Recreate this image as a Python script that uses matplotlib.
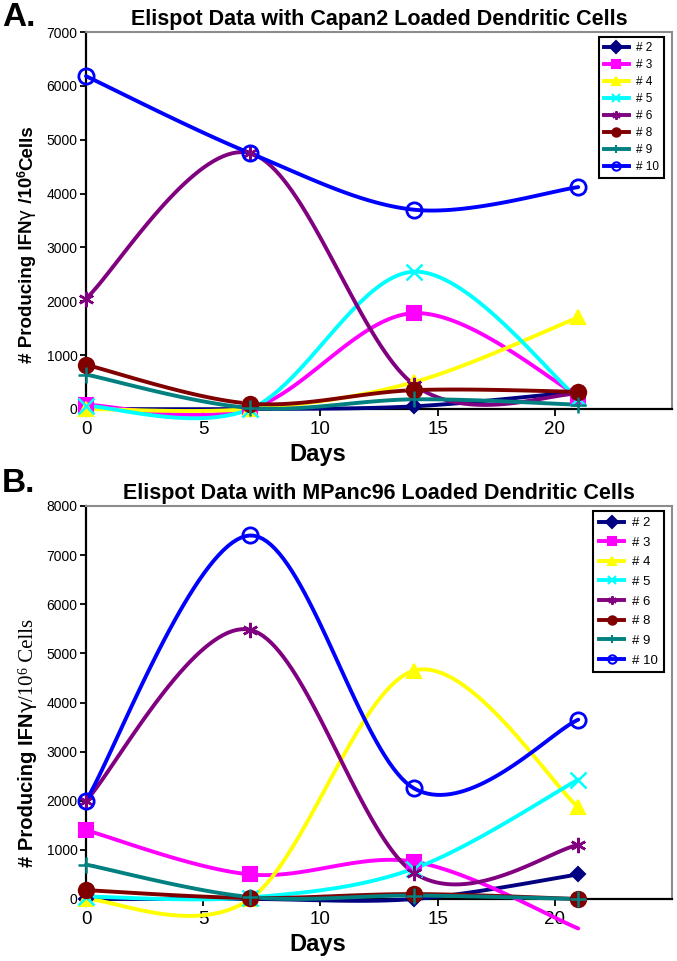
import numpy as np
import matplotlib
matplotlib.use("Agg")
import matplotlib.pyplot as plt
from matplotlib.lines import Line2D

plt.rcParams['font.family'] = ['Liberation Sans', 'DejaVu Sans']

# ---------------- data ----------------
days = [0, 7, 14, 21]
series_labels = ["# 2", "# 3", "# 4", "# 5", "# 6", "# 8", "# 9", "# 10"]

# Panel A: Capan2
a_p2 = [0, 0, 50, 320]
a_p3 = [80, 0, 1780, 250]
a_p4 = [0, 0, 500, 1700]
a_p5 = [60, 0, 2550, 200]
a_p6 = [2050, 4750, 450, 280]
a_p8 = [820, 100, 350, 320]
a_p9 = [640, 20, 180, 80]
a_p10 = [6180, 4750, 3700, 4120]

# Panel B: MPanc96
b_p2 = [0, 0, 0, 500]
b_p3 = [1400, 500, 760, -600]
b_p4 = [0, 0, 4650, 1870]
b_p5 = [50, 30, 620, 2430]
b_p6 = [2000, 5480, 530, 1100]
b_p8 = [180, 20, 100, 0]
b_p9 = [700, 40, 70, 0]
b_p10 = [2000, 7400, 2250, 3650]

x_ticks = [0, 5, 10, 15, 20]
a_yticks = [0, 1000, 2000, 3000, 4000, 5000, 6000, 7000]
b_yticks = [0, 1000, 2000, 3000, 4000, 5000, 6000, 7000, 8000]

# ---------------- styles ----------------
colors = ["#000080", "#FF00FF", "#FFFF00", "#00FFFF", "#800080", "#800000", "#008080", "#0000FF"]
markers = ["D", "s", "^", "x", (6, 2, 0), "o", "+", "o"]
msizes = [7, 10, 10, 11, 11, 11, 12, 11]
mfaces = [None, None, None, None, None, None, None, "none"]

W, H = 677, 961
fig = plt.figure(figsize=(W / 100, H / 100), dpi=100)


def smooth(xs, ys, n=40):
    pts = np.column_stack([xs, ys]).astype(float)
    out = []
    for i in range(len(pts) - 1):
        p1, p2 = pts[i], pts[i + 1]
        p0 = pts[i - 1] if i > 0 else p1
        p3 = pts[i + 2] if i + 2 < len(pts) else p2
        c1 = p1 + (p2 - p0) / 6.0
        c2 = p2 - (p3 - p1) / 6.0
        t = np.linspace(0, 1, n)[:, None]
        seg = ((1 - t) ** 3) * p1 + 3 * ((1 - t) ** 2) * t * c1 + 3 * (1 - t) * t ** 2 * c2 + t ** 3 * p2
        out.append(seg if i == 0 else seg[1:])
    s = np.vstack(out)
    return s[:, 0], s[:, 1]


def ax_rect(left, top, right, bottom):
    return [left / W, 1 - bottom / H, (right - left) / W, (bottom - top) / H]


def make_panel(box, data, ymax, yticks, title, leg_corner, leg_fs, leg_sp, leg_hl):
    left, top, right, bottom = box
    ax = fig.add_axes(ax_rect(left, top, right, bottom))
    for vals, c, m, ms, mf in zip(data, colors, markers, msizes, mfaces):
        sx, sy = smooth(days, vals)
        ax.plot(sx, sy, color=c, lw=2.8, clip_on=False, solid_capstyle='round', zorder=3)
        v = np.array(vals, float)
        d = np.array(days, float)
        keep = v >= 0
        kw = dict(color=c, marker=m, ms=ms, ls='none', clip_on=False, zorder=4,
                  markeredgewidth=1.8 if m in ("x", "+", (6, 2, 0)) else 1.5)
        if mf == "none":
            kw['markerfacecolor'] = 'none'
            kw['markeredgewidth'] = 2.0
        ax.plot(d[keep], v[keep], **kw)
    ax.set_xlim(0, 25)
    ax.set_ylim(0, ymax)
    ax.set_xticks(x_ticks)
    ax.set_yticks(yticks)
    ax.tick_params(axis='x', direction='out', length=5, width=1.3, labelsize=13.5, pad=4)
    ax.tick_params(axis='y', direction='out', length=4, width=1.3, labelsize=10, pad=2)
    for s in ('top', 'right'):
        ax.spines[s].set_color('#8c8c8c')
        ax.spines[s].set_linewidth(1.5)
    for s in ('left', 'bottom'):
        ax.spines[s].set_color('black')
        ax.spines[s].set_linewidth(1.6)
    ax.set_title(title, fontsize=15.5, fontweight='bold', pad=5)
    handles = []
    for c, m, mf in zip(colors, markers, mfaces):
        kw = dict(color=c, lw=2.8, marker=m, ms=6, markeredgewidth=1.5)
        if mf == "none":
            kw['markerfacecolor'] = 'none'
        handles.append(Line2D([], [], **kw))
    lx, ly = leg_corner
    anchor = ((lx - left) / (right - left), (bottom - ly) / (bottom - top))
    leg = ax.legend(handles, series_labels, loc='upper right', bbox_to_anchor=anchor,
                    borderaxespad=0, fontsize=leg_fs, labelspacing=leg_sp, handlelength=leg_hl,
                    handletextpad=0.6, borderpad=0.45, fancybox=False, framealpha=1,
                    edgecolor='black')
    leg.get_frame().set_linewidth(1.5)
    leg.set_zorder(10)
    return ax


a_data = [a_p2, a_p3, a_p4, a_p5, a_p6, a_p8, a_p9, a_p10]
b_data = [b_p2, b_p3, b_p4, b_p5, b_p6, b_p8, b_p9, b_p10]

axA = make_panel((86, 32, 672, 409), a_data, 7000, a_yticks,
                 "Elispot Data with Capan2 Loaded Dendritic Cells", (664, 37), 8.5, 0.42, 2.1)
axB = make_panel((86, 506, 672, 899), b_data, 8000, b_yticks,
                 "Elispot Data with MPanc96 Loaded Dendritic Cells", (664, 511), 9.5, 0.56, 1.9)

fig.text(2 / W, 1 - 2 / H, "A.", fontsize=24, fontweight='bold', va='top', ha='left')
fig.text(2 / W, 1 - 468 / H, "B.", fontsize=24, fontweight='bold', va='top', ha='left')

fig.text(318 / W, 1 - 455 / H, "Days", fontsize=17, fontweight='bold', ha='center', va='center')
fig.text(318 / W, 1 - 945 / H, "Days", fontsize=17, fontweight='bold', ha='center', va='center')

renderer = fig.canvas.get_renderer()


def vlabel(x_px, y_bottom_px, pieces):
    y = H - y_bottom_px
    for txt, kw, dx in pieces:
        t = fig.text((x_px + dx) / W, y / H, txt, rotation=90, rotation_mode='anchor',
                     ha='left', va='baseline', **kw)
        bb = t.get_window_extent(renderer)
        y += bb.height


boldA = dict(fontsize=13.5, fontweight='bold')
thinA = dict(fontsize=13.5, fontweight='normal', family=['DejaVu Sans'])
supA = dict(fontsize=9, fontweight='bold')
boldB = dict(fontsize=14.5, fontweight='bold')
thinB = dict(fontsize=14.5, fontweight='normal', family=['DejaVu Sans'])
serif = dict(fontsize=15, family=['Liberation Serif'])
serif_sup = dict(fontsize=10, family=['Liberation Serif'])

vlabel(32, 363, [("# Producing IFN", boldA, 0), ("γ", thinA, 0), (" /10", boldA, 0),
                 ("6", supA, -6), ("Cells", boldA, 0)])
vlabel(33, 867, [("# Producing IFN", boldB, 0), ("γ", thinB, 0), ("/10", serif, 0),
                 ("6", serif_sup, -6), (" Cells", serif, 0)])

fig.savefig("out.png", dpi=100)
